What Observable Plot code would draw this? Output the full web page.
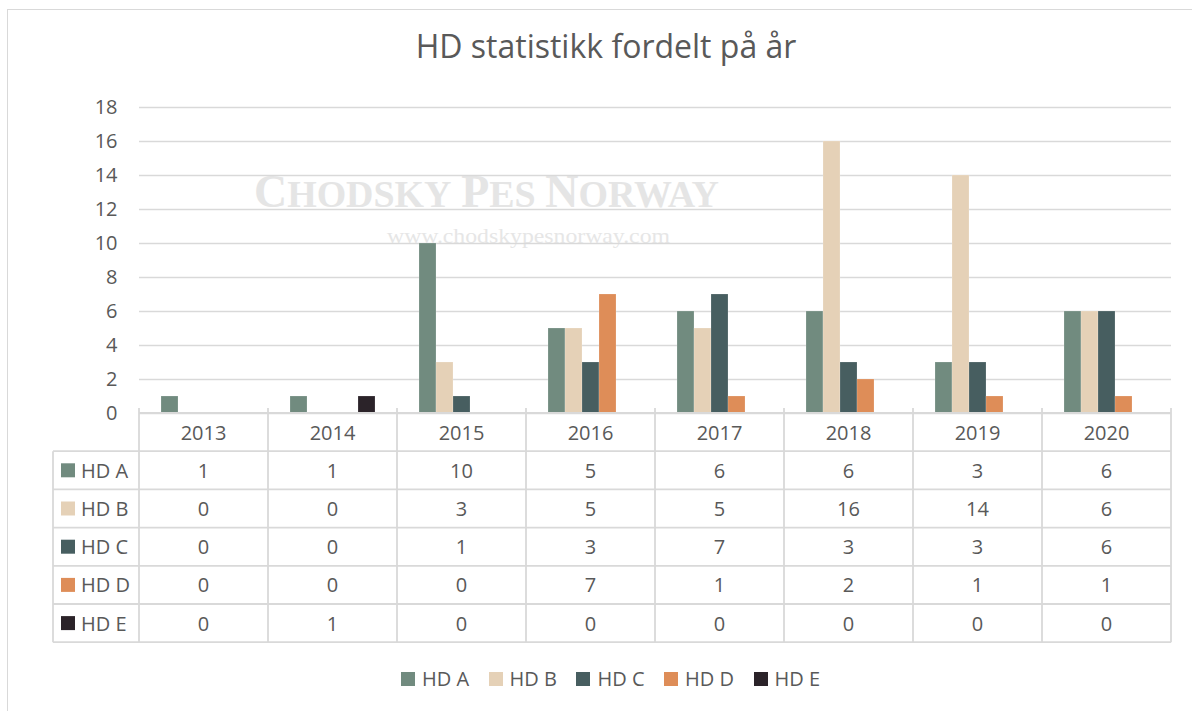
<!DOCTYPE html>
<html><head><meta charset="utf-8">
<script src="https://cdn.jsdelivr.net/npm/d3@7"></script>
<script src="https://cdn.jsdelivr.net/npm/@observablehq/plot@0.6"></script>
<style>
body{margin:0;background:#fff;font-family:"Open Sans",sans-serif;color:#595959;width:1192px;height:711px;overflow:hidden;position:relative;}
#frame{position:absolute;left:7px;top:9px;width:1220px;height:740px;border-left:1.5px solid #d9d9d9;border-top:1.5px solid #d9d9d9;box-sizing:border-box;}
#title{position:absolute;left:0;width:1212px;top:24px;text-align:center;font-size:32px;line-height:44px;color:#595959;}
#wm,#chart,#table{position:absolute;left:0;top:0;}
#legend{position:absolute;left:401px;top:666px;display:flex;align-items:center;font-size:20px;line-height:26px;}
#legend .it{display:flex;align-items:center;margin-right:19.5px;}
#legend .sw{width:14px;height:14px;margin-right:7px;}
</style></head>
<body>
<div id="frame"></div>
<div id="title">HD statistikk fordelt på år</div>
<svg id="wm" width="1192" height="300"></svg>
<div id="chart"></div>
<svg id="table" width="1192" height="711"></svg>
<div id="legend"></div>
<script>
const years = ["2013","2014","2015","2016","2017","2018","2019","2020"];
const series = ["HD A","HD B","HD C","HD D","HD E"];
const colors = ["#718b7f","#e5d1b7","#475e60","#de8d58","#2b2329"];
const hdA = [1,1,10,5,6,6,3,6];
const hdB = [0,0,3,5,5,16,14,6];
const hdC = [0,0,1,3,7,3,3,6];
const hdD = [0,0,0,7,1,2,1,1];
const hdE = [0,1,0,0,0,0,0,0];
const yTicks = [0,2,4,6,8,10,12,14,16,18];
const titleText = "HD statistikk fordelt på år";
const watermark = "CHODSKY PES NORWAY";
const watermarkUrl = "www.chodskypesnorway.com";

const values = [hdA,hdB,hdC,hdD,hdE];
const data = [];
series.forEach((s,i)=>years.forEach((y,j)=>data.push({series:s,year:y,value:values[i][j]})));
document.getElementById("title").textContent = titleText;

// watermark
const wm = d3.select("#wm");
const t1 = wm.append("text").attr("x",254).attr("y",207).attr("textLength",465).attr("lengthAdjust","spacingAndGlyphs")
  .attr("font-family","'Liberation Serif','DejaVu Serif',serif").attr("font-weight","bold").attr("fill","#e5e5e5");
watermark.split(" ").forEach((w,wi)=>{
  if(wi>0) t1.append("tspan").attr("font-size",39).text("  ");
  t1.append("tspan").attr("font-size",46).text(w[0]);
  t1.append("tspan").attr("font-size",38).text(w.slice(1));
});
wm.append("text").attr("x",387).attr("y",243).attr("textLength",283).attr("lengthAdjust","spacingAndGlyphs")
  .attr("font-family","'Liberation Serif','DejaVu Serif',serif").attr("font-size",22).attr("fill","#e6e6e6").text(watermarkUrl);

const chart = Plot.plot({
  width:1192, height:420,
  marginLeft:137, marginRight:19, marginTop:107, marginBottom:7,
  style:{background:"transparent", fontFamily:"'Open Sans',sans-serif", fontSize:"20px", color:"#595959", overflow:"visible"},
  fx:{domain:years, padding:0, axis:null, label:null},
  x:{domain:series, paddingInner:0, paddingOuter:1.1, axis:null, label:null},
  y:{domain:[0,18], label:null, axis:null},
  color:{domain:series, range:colors},
  marks:[
    Plot.gridY(yTicks,{stroke:"#d9d9d9", strokeOpacity:1, strokeWidth:1.3}),
    Plot.barY(data.filter(d=>d.value>0),{fx:"year", x:"series", y:"value", fill:"series", stroke:"#ffffff", strokeOpacity:0.35, strokeWidth:0.5}),
    Plot.axisY(yTicks,{anchor:"left", tickSize:0, tickPadding:22, fill:"#595959", fontSize:20, label:null, facetAnchor:"left"})
  ]
});
document.getElementById("chart").appendChild(chart);

// data table below the plot, aligned with the fx scale
const fx = chart.scale("fx");
const bw = fx.bandwidth;
const x0 = fx.apply(years[0]);
const x1 = fx.apply(years[years.length-1]) + bw;
const top0 = 413, rowH = 38.2, leftX = 53;
const tb = d3.select("#table");
const lineCol = "#d9d9d9", lw = 1.8;
for(let k=0;k<=series.length+1;k++){
  const y = top0 + k*rowH;
  tb.append("line").attr("x1", k===0? x0 : leftX).attr("x2", x1).attr("y1",y).attr("y2",y).attr("stroke",lineCol).attr("stroke-width",lw);
}
years.forEach(y=>{
  const x = fx.apply(y);
  tb.append("line").attr("x1",x).attr("x2",x).attr("y1",top0-5).attr("y2",top0+(series.length+1)*rowH).attr("stroke",lineCol).attr("stroke-width",lw);
});
tb.append("line").attr("x1",x1).attr("x2",x1).attr("y1",top0-5).attr("y2",top0+(series.length+1)*rowH).attr("stroke",lineCol).attr("stroke-width",lw);
tb.append("line").attr("x1",leftX).attr("x2",leftX).attr("y1",top0+rowH).attr("y2",top0+(series.length+1)*rowH).attr("stroke",lineCol).attr("stroke-width",lw);
const txt = (x,y,s,anchor)=>tb.append("text").attr("x",x).attr("y",y).attr("text-anchor",anchor||"middle").attr("dominant-baseline","central")
  .attr("font-family","'Open Sans',sans-serif").attr("font-size",20).attr("fill","#595959").text(s);
years.forEach(y=>txt(fx.apply(y)+bw/2, top0+rowH/2, y));
series.forEach((s,i)=>{
  const yc = top0 + (i+1)*rowH + rowH/2;
  tb.append("rect").attr("x",61).attr("y",yc-7).attr("width",14).attr("height",14).attr("fill",colors[i]);
  txt(81, yc, s, "start");
  years.forEach((y,j)=>txt(fx.apply(y)+bw/2, yc, String(values[i][j])));
});

// legend
const lg = d3.select("#legend");
series.forEach((s,i)=>{
  const it = lg.append("div").attr("class","it");
  it.append("div").attr("class","sw").style("background",colors[i]);
  it.append("span").text(s);
});
</script>
</body></html>
